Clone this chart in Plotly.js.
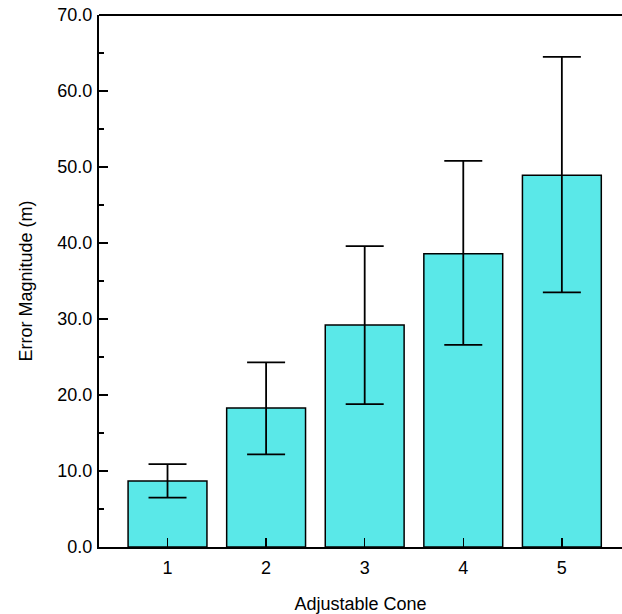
<!DOCTYPE html>
<html>
<head>
<meta charset="utf-8">
<script src="https://cdn.plot.ly/plotly-3.0.1.min.js"></script>
<style>html,body{margin:0;padding:0;background:#fff;}#chart{width:622px;height:614px;}</style>
</head>
<body>
<div id="chart"></div>
<script>
const categories = [1, 2, 3, 4, 5];
const meanError = [8.7, 18.3, 29.2, 38.6, 48.9];
const errUpper = [2.2, 6.0, 10.4, 12.2, 15.6];
const errLower = [2.2, 6.1, 10.4, 12.0, 15.4];
const yTickVals = [0, 10, 20, 30, 40, 50, 60, 70];
const yTickText = ['0.0', '10.0', '20.0', '30.0', '40.0', '50.0', '60.0', '70.0'];

const font = 'Liberation Sans, Arial, Helvetica, sans-serif';

const trace = {
  type: 'bar',
  x: categories,
  y: meanError,
  width: 0.8,
  marker: {color: '#5AE8E8', line: {color: '#000', width: 1.5}},
  error_y: {type: 'data', symmetric: false, array: errUpper, arrayminus: errLower,
            color: '#000', thickness: 1.8, width: 19},
  hoverinfo: 'none'
};

const layout = {
  width: 622, height: 614,
  margin: {l: 99, r: 0, t: 15, b: 67},
  paper_bgcolor: '#fff', plot_bgcolor: '#fff',
  showlegend: false,
  font: {family: font, size: 18, color: '#000'},
  xaxis: {
    range: [0.305, 5.61],
    tickvals: categories,
    ticktext: categories.map(String),
    ticks: 'inside', ticklen: 9, tickwidth: 1.5, tickcolor: '#000',
    ticklabelstandoff: 3,
    showline: true, linecolor: '#000', linewidth: 2,
    showgrid: false, zeroline: false,
    tickfont: {size: 18},
    title: {text: 'Adjustable Cone', font: {size: 18}, standoff: 21}
  },
  yaxis: {
    range: [0, 70],
    tickvals: yTickVals,
    ticktext: yTickText,
    ticks: 'inside', ticklen: 9, tickwidth: 1.5, tickcolor: '#000',
    ticklabelstandoff: 1,
    minor: {tickvals: [5, 15, 25, 35, 45, 55, 65], ticks: 'inside', ticklen: 5, tickwidth: 1.5, tickcolor: '#000', showgrid: false},
    showline: true, linecolor: '#000', linewidth: 2,
    showgrid: false, zeroline: false,
    tickfont: {size: 18},
    title: {text: 'Error Magnitude (m)', font: {size: 18}, standoff: 20}
  },
  shapes: [{type: 'line', xref: 'paper', yref: 'paper', x0: 0, x1: 1, y0: 1, y1: 1,
            line: {color: '#000', width: 2}}]
};

Plotly.newPlot('chart', [trace], layout, {displayModeBar: false, staticPlot: true});
</script>
</body>
</html>
